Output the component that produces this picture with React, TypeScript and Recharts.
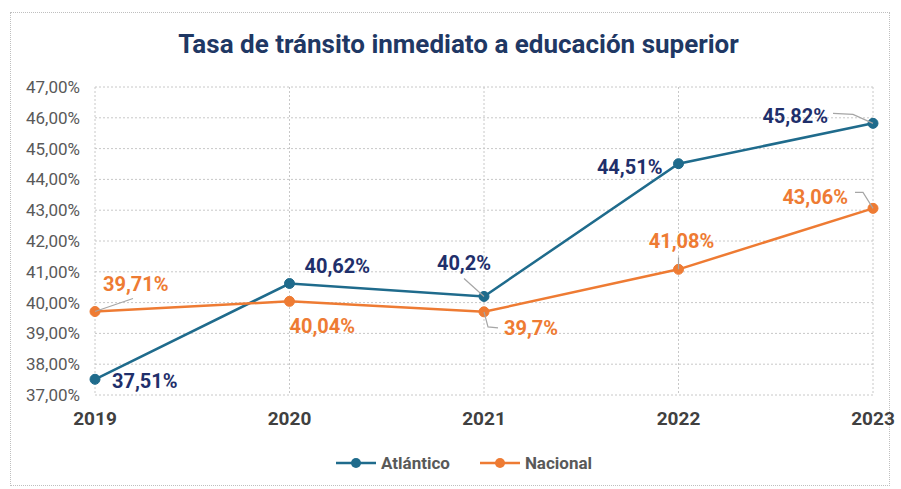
import { LineChart, Line, XAxis, YAxis, CartesianGrid, LabelList } from 'recharts';

const years = ['2019', '2020', '2021', '2022', '2023'];
const atlantico = [37.51, 40.62, 40.2, 44.51, 45.82];
const nacional = [39.71, 40.04, 39.7, 41.08, 43.06];
const yTicks = [37, 38, 39, 40, 41, 42, 43, 44, 45, 46, 47];

const data = years.map((year, i) => ({ year, atlantico: atlantico[i], nacional: nacional[i] }));

const BLUE = '#1f6b8c';
const NAVY = '#1f2f6b';
const ORANGE = '#ee7b33';
const LEADER = '#a6a6a6';
const FONT = 'Roboto, "Liberation Sans", sans-serif';

// label placement per point: dx/dy from the point, anchor, optional leader line
type Place = { dx: number; dy: number; anchor: 'start' | 'middle' | 'end'; leader?: number[][] };

const atlPlace: Place[] = [
  { dx: 17, dy: 9, anchor: 'start' },
  { dx: 15, dy: -11, anchor: 'start' },
  { dx: -20, dy: -26, anchor: 'middle', leader: [[-20, -18], [0, 0]] },
  { dx: -16, dy: 10, anchor: 'end' },
  { dx: -45, dy: 0, anchor: 'end', leader: [[-40, -10], [-20, -9], [0, 0]] },
];

const natPlace: Place[] = [
  { dx: 8, dy: -21, anchor: 'start', leader: [[0, 0], [38, -13]] },
  { dx: 0, dy: 32, anchor: 'start' },
  { dx: 20, dy: 23, anchor: 'start', leader: [[0, 0], [4, 15], [14, 16]] },
  { dx: 3, dy: -21, anchor: 'middle', leader: [[0, 0], [0, -12]] },
  { dx: -25, dy: -4, anchor: 'end', leader: [[-18, -16], [-10, -16], [0, 0]] },
];

const fmt = (v: number) => String(v).replace('.', ',') + '%';

function makeLabel(places: Place[], color: string) {
  return (props: any) => {
    const { x, y, value, index } = props;
    const p = places[index];
    if (!p) return null;
    const leader = p.leader
      ? 'M' + p.leader.map(([a, b]) => `${x + a},${y + b}`).join(' L')
      : null;
    return (
      <g>
        {leader && <path d={leader} stroke={LEADER} strokeWidth={1.2} fill="none" />}
        <text
          x={x + p.dx}
          y={y + p.dy}
          textAnchor={p.anchor}
          fill={color}
          fontSize={20}
          fontWeight={700}
          fontFamily={FONT}
        >
          {fmt(value)}
        </text>
      </g>
    );
  };
}

function LegendBox() {
  const items = [
    { name: 'Atlántico', color: BLUE },
    { name: 'Nacional', color: ORANGE },
  ];
  return (
    <div
      style={{
        position: 'absolute',
        top: 453,
        left: 336,
        display: 'flex',
        gap: 30,
      }}
    >
      {items.map((it) => (
        <div key={it.name} style={{ display: 'flex', alignItems: 'center', gap: 5 }}>
          <svg width={40} height={12}>
            <line x1={0} y1={6} x2={40} y2={6} stroke={it.color} strokeWidth={2.5} />
            <circle cx={20} cy={6} r={5} fill={it.color} />
          </svg>
          <span style={{ fontFamily: FONT, fontSize: 17, fontWeight: 700, color: '#595959' }}>{it.name}</span>
        </div>
      ))}
    </div>
  );
}

export default function App() {
  return (
    <div style={{ position: 'absolute', left: 0, top: 0, width: 901, height: 489, background: '#fff' }}>
      <div
        style={{
          position: 'absolute',
          left: 10,
          top: 12,
          width: 878,
          height: 472,
          border: '1px dotted #bfbfbf',
        }}
      />
      <div
        style={{
          position: 'absolute',
          top: 29,
          left: 8,
          width: 901,
          textAlign: 'center',
          fontFamily: FONT,
          fontWeight: 700,
          fontSize: 26,
          color: '#1f3864',
        }}
      >
        Tasa de tránsito inmediato a educación superior
      </div>
      <LineChart
        width={901}
        height={489}
        data={data}
        margin={{ top: 87, right: 28, left: 10, bottom: 64 }}
        style={{ position: 'absolute', left: 0, top: 0 }}
      >
        <CartesianGrid stroke="#c8c8c8" strokeDasharray="2 2" />
        <XAxis
          dataKey="year"
          axisLine={false}
          tickLine={false}
          height={30}
          tick={{ fill: '#404040', fontSize: 19, fontWeight: 700, fontFamily: FONT }}
          tickMargin={11}
        />
        <YAxis
          domain={[37, 47]}
          ticks={yTicks}
          width={85}
          axisLine={false}
          tickLine={false}
          tickMargin={9}
          tick={{ fill: '#595959', fontSize: 17, fontFamily: FONT }}
          tickFormatter={(v: number) => v.toFixed(2).replace('.', ',') + '%'}
        />
        <Line
          type="linear"
          dataKey="atlantico"
          name="Atlántico"
          stroke={BLUE}
          strokeWidth={2.5}
          dot={{ r: 5, fill: BLUE, stroke: BLUE, strokeWidth: 1 }}
          isAnimationActive={false}
        >
          <LabelList dataKey="atlantico" content={makeLabel(atlPlace, NAVY)} />
        </Line>
        <Line
          type="linear"
          dataKey="nacional"
          name="Nacional"
          stroke={ORANGE}
          strokeWidth={2.5}
          dot={{ r: 5, fill: ORANGE, stroke: ORANGE, strokeWidth: 1 }}
          isAnimationActive={false}
        >
          <LabelList dataKey="nacional" content={makeLabel(natPlace, ORANGE)} />
        </Line>
      </LineChart>
      <LegendBox />
    </div>
  );
}
